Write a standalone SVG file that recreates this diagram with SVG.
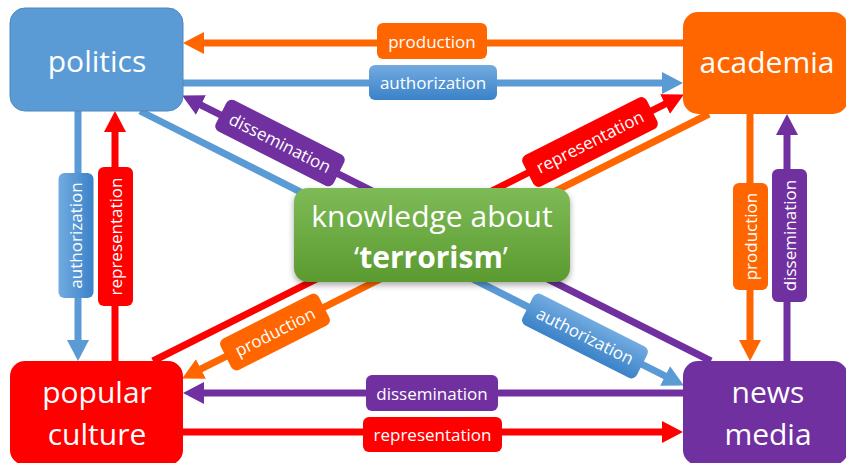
<svg xmlns="http://www.w3.org/2000/svg" width="846" height="463" viewBox="0 0 846 463">
  <defs>
    <style>
      .ln { fill: none; stroke-width: 7; stroke-linecap: butt; }
      .node-text { font-family: "Open Sans", "Noto Sans", sans-serif; font-size: 30px; fill: #ffffff; text-anchor: middle; }
      .lbl-text { font-family: "Open Sans", "Noto Sans", sans-serif; font-size: 17px; fill: #ffffff; text-anchor: middle; }
      .blue { stroke: #5B9BD5; }
      .orange { stroke: #FF6600; }
      .red { stroke: #FF0000; }
      .purple { stroke: #7030A0; }
    </style>
    <linearGradient id="gBlueLbl" x1="0" y1="0" x2="0" y2="1">
      <stop offset="0" stop-color="#72ABE0"/>
      <stop offset="1" stop-color="#3B82C8"/>
    </linearGradient>
    <linearGradient id="gGreen" x1="0" y1="0" x2="0" y2="1">
      <stop offset="0" stop-color="#7EBB57"/>
      <stop offset="1" stop-color="#5B9A30"/>
    </linearGradient>
    <filter id="shadow" x="-10%" y="-10%" width="120%" height="130%">
      <feDropShadow dx="0" dy="3" stdDeviation="3" flood-color="#000000" flood-opacity="0.35"/>
    </filter>
    <marker id="aBlue" markerUnits="userSpaceOnUse" markerWidth="22" markerHeight="22" refX="2" refY="11" orient="auto">
      <path d="M0,0 L21,11 L0,22 z" fill="#5B9BD5"/>
    </marker>
    <marker id="aOrange" markerUnits="userSpaceOnUse" markerWidth="22" markerHeight="22" refX="2" refY="11" orient="auto">
      <path d="M0,0 L21,11 L0,22 z" fill="#FF6600"/>
    </marker>
    <marker id="aRed" markerUnits="userSpaceOnUse" markerWidth="22" markerHeight="22" refX="2" refY="11" orient="auto">
      <path d="M0,0 L21,11 L0,22 z" fill="#FF0000"/>
    </marker>
    <marker id="aPurple" markerUnits="userSpaceOnUse" markerWidth="22" markerHeight="22" refX="2" refY="11" orient="auto">
      <path d="M0,0 L21,11 L0,22 z" fill="#7030A0"/>
    </marker>
  </defs>

  <rect width="846" height="463" fill="#ffffff"/>

  <g id="connectors">
    <!-- top: academia -> politics, politics -> academia -->
    <line class="ln orange" x1="683" y1="43" x2="202" y2="43" marker-end="url(#aOrange)"/>
    <line class="ln blue" x1="183" y1="83" x2="664" y2="83" marker-end="url(#aBlue)"/>
    <!-- bottom: news media -> popular culture, popular culture -> news media -->
    <line class="ln purple" x1="683" y1="393" x2="202" y2="393" marker-end="url(#aPurple)"/>
    <line class="ln red" x1="183" y1="432" x2="664" y2="432" marker-end="url(#aRed)"/>
    <!-- left verticals -->
    <line class="ln blue" x1="78" y1="111" x2="78" y2="342" marker-end="url(#aBlue)"/>
    <line class="ln red" x1="115" y1="361" x2="115" y2="130" marker-end="url(#aRed)"/>
    <!-- right verticals -->
    <line class="ln orange" x1="750" y1="114" x2="750" y2="342" marker-end="url(#aOrange)"/>
    <line class="ln purple" x1="787" y1="361" x2="787" y2="133" marker-end="url(#aPurple)"/>
    <!-- diagonals crossing behind the centre -->
    <line class="ln blue" x1="140" y1="111" x2="666.9" y2="376.9" marker-end="url(#aBlue)"/>
    <line class="ln purple" x1="711" y1="361" x2="199.1" y2="104.1" marker-end="url(#aPurple)"/>
    <line class="ln red" x1="153" y1="361" x2="666.9" y2="103.1" marker-end="url(#aRed)"/>
    <line class="ln orange" x1="709" y1="114" x2="199.1" y2="369.9" marker-end="url(#aOrange)"/>

    <!-- labels: horizontal -->
    <g transform="translate(432,41)">
      <rect x="-55" y="-18" width="110" height="36" rx="6" fill="#FF6600"/>
      <text class="lbl-text" y="6.5">production</text>
    </g>
    <g transform="translate(433,82.5)">
      <rect x="-64" y="-17.5" width="128" height="35" rx="6" fill="url(#gBlueLbl)"/>
      <text class="lbl-text" y="6.5">authorization</text>
    </g>
    <g transform="translate(432,393)">
      <rect x="-66" y="-18" width="132" height="36" rx="6" fill="#7030A0"/>
      <text class="lbl-text" y="6.5">dissemination</text>
    </g>
    <g transform="translate(432.5,434.5)">
      <rect x="-69.5" y="-17.5" width="139" height="35" rx="6" fill="#FF0000"/>
      <text class="lbl-text" y="6.5">representation</text>
    </g>

    <!-- labels: vertical -->
    <g transform="translate(76,235.5) rotate(-90)">
      <rect x="-62.5" y="-17.5" width="125" height="35" rx="6" fill="url(#gBlueLbl)"/>
      <text class="lbl-text" y="6">authorization</text>
    </g>
    <g transform="translate(115.5,236.5) rotate(-90)">
      <rect x="-69.5" y="-17.5" width="139" height="35" rx="6" fill="#FF0000"/>
      <text class="lbl-text" y="6">representation</text>
    </g>
    <g transform="translate(750.5,236.5) rotate(-90)">
      <rect x="-53.5" y="-17.5" width="107" height="35" rx="6" fill="#FF6600"/>
      <text class="lbl-text" y="6">production</text>
    </g>
    <g transform="translate(789.5,235.5) rotate(-90)">
      <rect x="-66.5" y="-17.5" width="133" height="35" rx="6" fill="#7030A0"/>
      <text class="lbl-text" y="6">dissemination</text>
    </g>

    <!-- labels: diagonal -->
    <g transform="translate(280,143) rotate(26.8)">
      <rect x="-66" y="-17.5" width="132" height="35" rx="6" fill="#7030A0"/>
      <text class="lbl-text" y="6">dissemination</text>
    </g>
    <g transform="translate(585,336) rotate(26.8)">
      <rect x="-64" y="-17.5" width="128" height="35" rx="6" fill="url(#gBlueLbl)"/>
      <text class="lbl-text" y="6">authorization</text>
    </g>
    <g transform="translate(590,142) rotate(-26.8)">
      <rect x="-69.5" y="-17.5" width="139" height="35" rx="6" fill="#FF0000"/>
      <text class="lbl-text" y="6">representation</text>
    </g>
    <g transform="translate(275,332) rotate(-26.8)">
      <rect x="-55" y="-17.5" width="110" height="35" rx="6" fill="#FF6600"/>
      <text class="lbl-text" y="6">production</text>
    </g>
  </g>

  <g id="politics">
    <rect x="10" y="8" width="173" height="103" rx="15" fill="#5B9BD5" stroke="#4F88BE" stroke-width="1"/>
    <text class="node-text" x="97" y="72">politics</text>
  </g>

  <g id="academia">
    <rect x="683" y="12" width="165" height="102" rx="15" fill="#FF6600"/>
    <text class="node-text" x="767" y="73">academia</text>
  </g>

  <g id="popular-culture">
    <rect x="10" y="361" width="173" height="104" rx="15" fill="#FF0000"/>
    <text class="node-text" x="97" y="403">popular</text>
    <text class="node-text" x="97" y="445">culture</text>
  </g>

  <g id="news-media">
    <rect x="683" y="361" width="165" height="104" rx="15" fill="#7030A0"/>
    <text class="node-text" x="768" y="403">news</text>
    <text class="node-text" x="768" y="445">media</text>
  </g>

  <g id="knowledge">
    <rect x="294" y="188" width="276" height="94" rx="14" fill="url(#gGreen)" filter="url(#shadow)"/>
    <text class="node-text" x="432" y="227">knowledge about</text>
    <text class="node-text" x="431" y="268"><tspan>‘</tspan><tspan font-weight="bold">terrorism</tspan><tspan>’</tspan></text>
  </g>
</svg>
